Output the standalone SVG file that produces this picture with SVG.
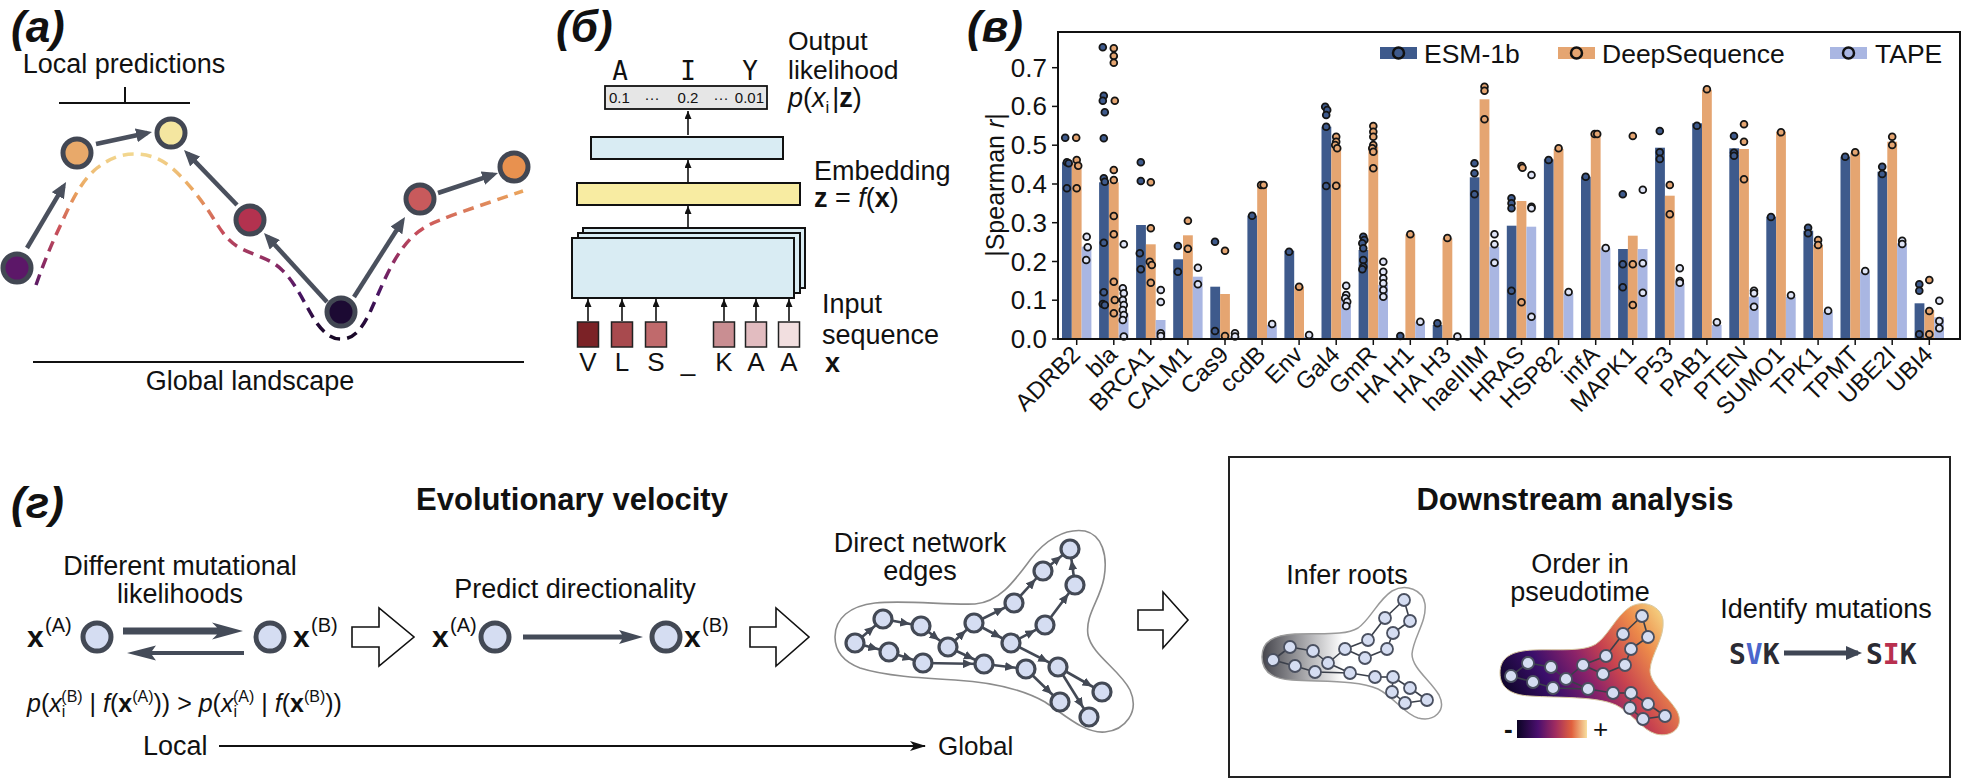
<svg xmlns="http://www.w3.org/2000/svg" width="1964" height="780" viewBox="0 0 1964 780">
<defs>
<style>
text{font-family:"Liberation Sans",Arial,Helvetica,sans-serif;fill:#111}
.lbl{font-size:27px}
.pl{font-size:44px;font-weight:bold;font-style:italic}
.h{font-size:31px;font-weight:bold}
.na{stroke:#424753;stroke-width:5}
.ar{stroke:#4a505d;stroke-width:4.5;fill:none;marker-end:url(#mA)}
.bx{fill:#d9ecf3;stroke:#111;stroke-width:2}
.ka{stroke:#111;stroke-width:1.6;marker-end:url(#mK)}
.sq{stroke:#222;stroke-width:1.5}
.e{fill:#3e5a8c}.d{fill:#e5a571}.t{fill:#a9b6e2}
.de,.dd,.dt{stroke:#151515;stroke-width:1.8}
.de{fill:#3e5a8c}.dd{fill:#e5a571}.dt{fill:#dfe4f6}
.tk{font-size:26px;text-anchor:end}
.xl{font-size:24px;text-anchor:end}
.vn{fill:#d5ddf2;stroke:#434955;stroke-width:5}
.nn{fill:#d5ddf2;stroke:#434955;stroke-width:3.2}
.ne{stroke:#434955;stroke-width:2.6;marker-end:url(#mN)}
.mn{fill:#d5ddf2;stroke:#4a5060;stroke-width:1.8}
.me{stroke:#3a3f4a;stroke-width:1.6}
.blk{fill:#fff;stroke:#111;stroke-width:1.6}
.it{font-style:italic}.bd{font-weight:bold}
.mono{font-family:"DejaVu Sans Mono","Liberation Mono",monospace}
</style>
<marker id="mA" markerUnits="userSpaceOnUse" markerWidth="16" markerHeight="14" refX="11" refY="7" orient="auto"><path d="M0,0L16,7L0,14Z" fill="#4a505d"/></marker>
<marker id="mK" markerUnits="userSpaceOnUse" markerWidth="8" markerHeight="7" refX="8" refY="3.5" orient="auto"><path d="M0,0L8,3.5L0,7Z" fill="#111"/></marker>
<marker id="mN" markerUnits="userSpaceOnUse" markerWidth="10" markerHeight="9" refX="21" refY="4.5" orient="auto"><path d="M0,0L10,4.5L0,9Z" fill="#434955"/></marker>
<marker id="mG" markerUnits="userSpaceOnUse" markerWidth="16" markerHeight="10" refX="15" refY="5" orient="auto"><path d="M0,0L16,5L0,10L4,5Z" fill="#111"/></marker>
<marker id="mS" markerUnits="userSpaceOnUse" markerWidth="16" markerHeight="14" refX="12" refY="7" orient="auto"><path d="M0,0L16,7L0,14Z" fill="#3f4654"/></marker>
<linearGradient id="gDash" gradientUnits="userSpaceOnUse" x1="0" y1="150" x2="0" y2="340">
<stop offset="0" stop-color="#f3dc94"/><stop offset="0.22" stop-color="#eaa35c"/><stop offset="0.42" stop-color="#c9505a"/><stop offset="0.6" stop-color="#8a2a63"/><stop offset="0.75" stop-color="#4a1565"/><stop offset="1" stop-color="#140722"/>
</linearGradient>
<linearGradient id="gGray" x1="0" y1="0" x2="1" y2="0">
<stop offset="0" stop-color="#45454c"/><stop offset="0.45" stop-color="#ffffff"/><stop offset="1" stop-color="#ffffff"/>
</linearGradient>
<linearGradient id="gInf" x1="0" y1="0.65" x2="1" y2="0.2">
<stop offset="0" stop-color="#0b0424"/><stop offset="0.25" stop-color="#3b0f6b"/><stop offset="0.45" stop-color="#8c2369"/><stop offset="0.6" stop-color="#c8434f"/><stop offset="0.8" stop-color="#ec8a4a"/><stop offset="1" stop-color="#f6dd8a"/>
</linearGradient>
<linearGradient id="gBar" x1="0" y1="0" x2="1" y2="0">
<stop offset="0" stop-color="#0b0424"/><stop offset="0.3" stop-color="#4a0f6e"/><stop offset="0.55" stop-color="#a02c60"/><stop offset="0.78" stop-color="#e0603e"/><stop offset="1" stop-color="#f8e0a0"/>
</linearGradient>
<path id="blob" d="M1262,657 C1262,641 1274,635 1295,634 C1320,633 1345,636 1358,628 C1370,620 1378,600 1392,591 C1406,583 1423,590 1425,604 C1427,622 1413,638 1412,654 C1412,668 1430,680 1439,695 C1447,711 1434,722 1418,718 C1404,714 1394,697 1378,689 C1358,680 1322,682 1292,680 C1272,679 1262,671 1262,657 Z"/>
<g id="mininet">
<g class="me">
<line x1="1273" y1="660" x2="1290" y2="647"/><line x1="1273" y1="660" x2="1295" y2="666"/><line x1="1290" y1="647" x2="1313" y2="651"/><line x1="1295" y1="666" x2="1315" y2="672"/><line x1="1313" y1="651" x2="1328" y2="663"/><line x1="1315" y1="672" x2="1350" y2="673"/><line x1="1328" y1="663" x2="1345" y2="649"/><line x1="1328" y1="663" x2="1350" y2="673"/><line x1="1345" y1="649" x2="1368" y2="640"/><line x1="1345" y1="649" x2="1365" y2="658"/><line x1="1368" y1="640" x2="1385" y2="618"/><line x1="1385" y1="618" x2="1404" y2="600"/><line x1="1365" y1="658" x2="1387" y2="649"/><line x1="1387" y1="649" x2="1393" y2="633"/><line x1="1393" y1="633" x2="1410" y2="621"/><line x1="1404" y1="600" x2="1410" y2="621"/><line x1="1350" y1="673" x2="1375" y2="677"/><line x1="1375" y1="677" x2="1393" y2="677"/><line x1="1393" y1="677" x2="1392" y2="692"/><line x1="1393" y1="677" x2="1410" y2="688"/><line x1="1392" y1="692" x2="1405" y2="703"/><line x1="1410" y1="688" x2="1427" y2="700"/><line x1="1405" y1="703" x2="1427" y2="700"/>
</g>
<g class="mn">
<circle cx="1273" cy="660" r="6"/><circle cx="1290" cy="647" r="6"/><circle cx="1295" cy="666" r="6"/><circle cx="1313" cy="651" r="6"/><circle cx="1315" cy="672" r="6"/><circle cx="1328" cy="663" r="6"/><circle cx="1345" cy="649" r="6"/><circle cx="1350" cy="673" r="6"/><circle cx="1368" cy="640" r="6"/><circle cx="1365" cy="658" r="6"/><circle cx="1385" cy="618" r="6"/><circle cx="1387" cy="649" r="6"/><circle cx="1393" cy="633" r="6"/><circle cx="1404" cy="600" r="6"/><circle cx="1410" cy="621" r="6"/><circle cx="1375" cy="677" r="6"/><circle cx="1393" cy="677" r="6"/><circle cx="1392" cy="692" r="6"/><circle cx="1410" cy="688" r="6"/><circle cx="1405" cy="703" r="6"/><circle cx="1427" cy="700" r="6"/>
</g>
</g>
</defs>
<rect width="1964" height="780" fill="#fff"/>

<!-- Panel a -->
<g id="panel-a">
<text class="pl" x="11" y="42">(а)</text>
<text class="lbl" x="124" y="73" text-anchor="middle">Local predictions</text>
<path d="M59,103H190M125,87V103" stroke="#111" stroke-width="2" fill="none"/>
<path id="landscape-curve" d="M36,285 C44,262 52,243 62,222 C72,200 82,180 97,168 C110,158 122,154 134,154 C148,154 160,158 172,168 C186,180 198,196 208,210 C218,225 225,240 240,248 C255,256 270,258 282,270 C296,283 305,305 316,322 C324,333 332,340 343,339 C356,338 364,325 371,310 C380,290 390,265 402,249 C412,235 424,226 440,220 C460,212 485,204 523,191" stroke="url(#gDash)" stroke-width="3.5" stroke-dasharray="11 7" fill="none"/>
<g id="a-connectors">
<line class="ar" x1="27" y1="248" x2="63.5" y2="186.3"/>
<line class="ar" x1="96" y1="144" x2="147.1" y2="133"/>
<line class="ar" x1="237" y1="205" x2="187.5" y2="153.6"/>
<line class="ar" x1="327" y1="302" x2="267.4" y2="236.7"/>
<line class="ar" x1="354" y1="297" x2="402.3" y2="221.2"/>
<line class="ar" x1="438" y1="193" x2="493.3" y2="174.6"/>
</g>
<g id="a-n1"><circle class="na" cx="17" cy="268" r="14" fill="#5c1768"/></g>
<g id="a-n2"><circle class="na" cx="77" cy="153" r="14" fill="#e8a96a"/></g>
<g id="a-n3"><circle class="na" cx="171" cy="133" r="14" fill="#f4e6a0"/></g>
<g id="a-n4"><circle class="na" cx="250" cy="220" r="14" fill="#b3324f"/></g>
<g id="a-n5"><circle class="na" cx="341" cy="312" r="14" fill="#1c0a33"/></g>
<g id="a-n6"><circle class="na" cx="420" cy="199" r="14" fill="#c85a5c"/></g>
<g id="a-n7"><circle class="na" cx="514" cy="167" r="14" fill="#e8914f"/></g>
<line x1="33" y1="362" x2="524" y2="362" stroke="#111" stroke-width="2.2"/>
<text class="lbl" x="250" y="390" text-anchor="middle">Global landscape</text>
</g>

<!-- Panel b -->
<g id="panel-b">
<text class="pl" x="556" y="42">(б)</text>
<g text-anchor="middle">
<text class="mono" x="620" y="80" style="font-size:26px">A</text>
<text class="mono" x="688" y="80" style="font-size:26px">I</text>
<text class="mono" x="750" y="80" style="font-size:26px">Y</text>
</g>
<g id="b-output"><rect x="605" y="86" width="162" height="23" fill="#e6e6e6" stroke="#111" stroke-width="1.8"/>
<text x="609" y="103" style="font-size:15px">0.1</text><text x="652" y="103" text-anchor="middle" style="font-size:15px">···</text><text x="688" y="103" text-anchor="middle" style="font-size:15px">0.2</text><text x="721" y="103" text-anchor="middle" style="font-size:15px">···</text><text x="764" y="103" text-anchor="end" style="font-size:15px">0.01</text></g>
<text x="788" y="50" style="font-size:26.5px">Output</text>
<text x="788" y="79" style="font-size:26.5px">likelihood</text>
<text class="lbl" x="788" y="107"><tspan class="it">p</tspan>(<tspan class="it">x</tspan><tspan style="font-size:17px" dy="6">i</tspan><tspan dy="-6" dx="3">|</tspan><tspan class="bd">z</tspan>)</text>
<g id="b-layer1"><rect class="bx" x="591" y="137" width="192" height="22"/></g>
<g id="b-embed"><rect x="577" y="183" width="223" height="22" fill="#f8eca2" stroke="#111" stroke-width="2"/></g>
<text class="lbl" x="814" y="180">Embedding</text>
<text class="lbl" x="814" y="207"><tspan class="bd">z</tspan> = <tspan class="it">f</tspan>(<tspan class="bd">x</tspan>)</text>
<g id="b-stack">
<rect class="bx" x="583" y="228" width="222" height="60"/>
<rect class="bx" x="578" y="233" width="222" height="60"/>
<rect class="bx" x="572" y="238" width="222" height="60"/>
</g>
<g id="b-connectors">
<line class="ka" x1="688" y1="135" x2="688" y2="111"/>
<line class="ka" x1="688" y1="182" x2="688" y2="160"/>
<line class="ka" x1="688" y1="228" x2="688" y2="206"/>
<line class="ka" x1="588" y1="321" x2="588" y2="299"/>
<line class="ka" x1="622" y1="321" x2="622" y2="299"/>
<line class="ka" x1="656" y1="321" x2="656" y2="299"/>
<line class="ka" x1="724" y1="321" x2="724" y2="299"/>
<line class="ka" x1="756" y1="321" x2="756" y2="299"/>
<line class="ka" x1="789" y1="321" x2="789" y2="299"/>
</g>
<g id="b-inputs">
<rect class="sq" x="577.5" y="322" width="21" height="25" fill="#7b2226"/>
<rect class="sq" x="611.5" y="322" width="21" height="25" fill="#a84a4e"/>
<rect class="sq" x="645.5" y="322" width="21" height="25" fill="#c06a6c"/>
<rect class="sq" x="713.5" y="322" width="21" height="25" fill="#c98e92"/>
<rect class="sq" x="745.5" y="322" width="21" height="25" fill="#e2bcc0"/>
<rect class="sq" x="778.5" y="322" width="21" height="25" fill="#f2dfe0"/>
</g>
<g text-anchor="middle">
<text x="588" y="371" style="font-size:26px">V</text><text x="622" y="371" style="font-size:26px">L</text><text x="656" y="371" style="font-size:26px">S</text><text x="688" y="371" style="font-size:26px">_</text><text x="724" y="371" style="font-size:26px">K</text><text x="756" y="371" style="font-size:26px">A</text><text x="789" y="371" style="font-size:26px">A</text>
</g>
<text x="825" y="372" style="font-size:27px;font-weight:bold">x</text>
<text class="lbl" x="822" y="313">Input</text>
<text class="lbl" x="822" y="344">sequence</text>
</g>

<!-- Panel c -->
<g id="panel-c">
<text class="pl" x="967" y="42">(в)</text>
<text transform="translate(1004 185) rotate(-90)" text-anchor="middle" style="font-size:25px">|Spearman <tspan class="it">r</tspan>|</text>
<g id="c-yaxis" stroke="#111" stroke-width="1.5">
<line x1="1052" y1="339" x2="1058" y2="339"/><line x1="1052" y1="300.2" x2="1058" y2="300.2"/><line x1="1052" y1="261.5" x2="1058" y2="261.5"/><line x1="1052" y1="222.7" x2="1058" y2="222.7"/><line x1="1052" y1="184" x2="1058" y2="184"/><line x1="1052" y1="145.2" x2="1058" y2="145.2"/><line x1="1052" y1="106.4" x2="1058" y2="106.4"/><line x1="1052" y1="67.7" x2="1058" y2="67.7"/>
</g>
<text class="tk" x="1047" y="348">0.0</text><text class="tk" x="1047" y="309.2">0.1</text><text class="tk" x="1047" y="270.5">0.2</text><text class="tk" x="1047" y="231.7">0.3</text><text class="tk" x="1047" y="193">0.4</text><text class="tk" x="1047" y="154.2">0.5</text><text class="tk" x="1047" y="115.4">0.6</text><text class="tk" x="1047" y="76.7">0.7</text>

<g id="grp-ADRB2" transform="translate(1076.7 0)"><rect class="e" x="-14.7" y="162.3" width="9.8" height="176.7"/><rect class="d" x="-4.9" y="163.3" width="9.8" height="175.7"/><rect class="t" x="4.9" y="246.7" width="9.8" height="92.3"/>
<circle class="de" cx="-11.5" cy="137.7" r="3.4"/><circle class="de" cx="-9.8" cy="162.3" r="3.4"/><circle class="de" cx="-8" cy="163.3" r="3.4"/><circle class="de" cx="-9.8" cy="188.3" r="3.4"/>
<circle class="dd" cx="-0.5" cy="137.7" r="3.4"/><circle class="dd" cx="0" cy="160" r="3.4"/><circle class="dd" cx="1.5" cy="165.7" r="3.4"/><circle class="dd" cx="0" cy="188.3" r="3.4"/>
<circle class="dt" cx="10" cy="236.7" r="3.4"/><circle class="dt" cx="11" cy="247.3" r="3.4"/><circle class="dt" cx="9.5" cy="260" r="3.4"/>
<line x1="0" y1="339" x2="0" y2="345" stroke="#111" stroke-width="1.5"/><text class="xl" transform="translate(5 356) rotate(-45)">ADRB2</text></g>

<g id="grp-bla" transform="translate(1113.8 0)"><rect class="e" x="-14.7" y="182.3" width="9.8" height="156.7"/><rect class="d" x="-4.9" y="182.3" width="9.8" height="156.7"/><rect class="t" x="4.9" y="313.3" width="9.8" height="25.7"/>
<circle class="de" cx="-11" cy="47.3" r="3.4"/><circle class="de" cx="-10" cy="95.7" r="3.4"/><circle class="de" cx="-11" cy="100.7" r="3.4"/><circle class="de" cx="-9" cy="112.3" r="3.4"/><circle class="de" cx="-10" cy="138.3" r="3.4"/><circle class="de" cx="-10" cy="178.3" r="3.4"/><circle class="de" cx="-9" cy="181.7" r="3.4"/><circle class="de" cx="-10" cy="242.7" r="3.4"/><circle class="de" cx="-10" cy="292.3" r="3.4"/><circle class="de" cx="-11" cy="304" r="3.4"/><circle class="de" cx="-9" cy="305" r="3.4"/>
<circle class="dd" cx="0" cy="48.3" r="3.4"/><circle class="dd" cx="0" cy="56" r="3.4"/><circle class="dd" cx="0" cy="62.7" r="3.4"/><circle class="dd" cx="1" cy="100.7" r="3.4"/><circle class="dd" cx="0" cy="170" r="3.4"/><circle class="dd" cx="0" cy="180" r="3.4"/><circle class="dd" cx="0" cy="216" r="3.4"/><circle class="dd" cx="0" cy="234.3" r="3.4"/><circle class="dd" cx="0" cy="281.7" r="3.4"/><circle class="dd" cx="1" cy="300" r="3.4"/><circle class="dd" cx="0" cy="313.3" r="3.4"/>
<circle class="dt" cx="10" cy="244.3" r="3.4"/><circle class="dt" cx="9" cy="288.3" r="3.4"/><circle class="dt" cx="10" cy="293.3" r="3.4"/><circle class="dt" cx="9" cy="300" r="3.4"/><circle class="dt" cx="10" cy="305" r="3.4"/><circle class="dt" cx="9" cy="310" r="3.4"/><circle class="dt" cx="10" cy="315" r="3.4"/><circle class="dt" cx="9" cy="320" r="3.4"/><circle class="dt" cx="10" cy="336.5" r="3.4"/>
<line x1="0" y1="339" x2="0" y2="345" stroke="#111" stroke-width="1.5"/><text class="xl" transform="translate(5 356) rotate(-45)">bla</text></g>

<g id="grp-BRCA1" transform="translate(1150.8 0)"><rect class="e" x="-14.7" y="225" width="9.8" height="114"/><rect class="d" x="-4.9" y="244.3" width="9.8" height="94.7"/><rect class="t" x="4.9" y="320" width="9.8" height="19"/>
<circle class="de" cx="-10" cy="162.3" r="3.4"/><circle class="de" cx="-10" cy="181" r="3.4"/><circle class="de" cx="-11" cy="253.3" r="3.4"/><circle class="de" cx="-10" cy="269.3" r="3.4"/>
<circle class="dd" cx="0" cy="182.3" r="3.4"/><circle class="dd" cx="0" cy="228.3" r="3.4"/><circle class="dd" cx="-1" cy="261.7" r="3.4"/><circle class="dd" cx="1" cy="265" r="3.4"/><circle class="dd" cx="0" cy="282.7" r="3.4"/>
<circle class="dt" cx="10" cy="290" r="3.4"/><circle class="dt" cx="10" cy="302" r="3.4"/><circle class="dt" cx="10" cy="333.3" r="3.4"/><circle class="dt" cx="10" cy="336" r="3.4"/>
<line x1="0" y1="339" x2="0" y2="345" stroke="#111" stroke-width="1.5"/><text class="xl" transform="translate(5 356) rotate(-45)">BRCA1</text></g>

<g id="grp-CALM1" transform="translate(1187.9 0)"><rect class="e" x="-14.7" y="259.3" width="9.8" height="79.7"/><rect class="d" x="-4.9" y="235.3" width="9.8" height="103.7"/><rect class="t" x="4.9" y="276.7" width="9.8" height="62.3"/>
<circle class="de" cx="-10" cy="246" r="3.4"/><circle class="de" cx="-10" cy="271.7" r="3.4"/>
<circle class="dd" cx="0" cy="220.7" r="3.4"/><circle class="dd" cx="0" cy="248.7" r="3.4"/>
<circle class="dt" cx="10" cy="267.7" r="3.4"/><circle class="dt" cx="10" cy="284.3" r="3.4"/>
<line x1="0" y1="339" x2="0" y2="345" stroke="#111" stroke-width="1.5"/><text class="xl" transform="translate(5 356) rotate(-45)">CALM1</text></g>

<g id="grp-Cas9" transform="translate(1225 0)"><rect class="e" x="-14.7" y="286.7" width="9.8" height="52.3"/><rect class="d" x="-4.9" y="294" width="9.8" height="45"/><rect class="t" x="4.9" y="336.7" width="9.8" height="2.3"/>
<circle class="de" cx="-10" cy="241.7" r="3.4"/><circle class="de" cx="-10" cy="331" r="3.4"/>
<circle class="dd" cx="0" cy="250.7" r="3.4"/><circle class="dd" cx="0" cy="336" r="3.4"/>
<circle class="dt" cx="10" cy="333.3" r="3.4"/><circle class="dt" cx="10" cy="336.5" r="3.4"/>
<line x1="0" y1="339" x2="0" y2="345" stroke="#111" stroke-width="1.5"/><text class="xl" transform="translate(5 356) rotate(-45)">Cas9</text></g>

<g id="grp-ccdB" transform="translate(1262.1 0)"><rect class="e" x="-14.7" y="215.7" width="9.8" height="123.3"/><rect class="d" x="-4.9" y="185" width="9.8" height="154"/><rect class="t" x="4.9" y="325" width="9.8" height="14"/>
<circle class="de" cx="-10" cy="215.7" r="3.4"/>
<circle class="dd" cx="-1" cy="185" r="3.4"/><circle class="dd" cx="1.5" cy="185" r="3.4"/>
<circle class="dt" cx="10" cy="324" r="3.4"/>
<line x1="0" y1="339" x2="0" y2="345" stroke="#111" stroke-width="1.5"/><text class="xl" transform="translate(5 356) rotate(-45)">ccdB</text></g>

<g id="grp-Env" transform="translate(1299.1 0)"><rect class="e" x="-14.7" y="250.7" width="9.8" height="88.3"/><rect class="d" x="-4.9" y="286.7" width="9.8" height="52.3"/><rect class="t" x="4.9" y="336.7" width="9.8" height="2.3"/>
<circle class="de" cx="-10" cy="251.7" r="3.4"/><circle class="dd" cx="0" cy="286.7" r="3.4"/><circle class="dt" cx="10" cy="335" r="3.4"/>
<line x1="0" y1="339" x2="0" y2="345" stroke="#111" stroke-width="1.5"/><text class="xl" transform="translate(5 356) rotate(-45)">Env</text></g>

<g id="grp-Gal4" transform="translate(1336.2 0)"><rect class="e" x="-14.7" y="126.7" width="9.8" height="212.3"/><rect class="d" x="-4.9" y="146.7" width="9.8" height="192.3"/><rect class="t" x="4.9" y="300" width="9.8" height="39"/>
<circle class="de" cx="-11" cy="106.7" r="3.4"/><circle class="de" cx="-9" cy="110" r="3.4"/><circle class="de" cx="-10" cy="115" r="3.4"/><circle class="de" cx="-10" cy="126.7" r="3.4"/><circle class="de" cx="-10" cy="186" r="3.4"/>
<circle class="dd" cx="0" cy="136.7" r="3.4"/><circle class="dd" cx="0" cy="141.7" r="3.4"/><circle class="dd" cx="-1" cy="145" r="3.4"/><circle class="dd" cx="1" cy="148.3" r="3.4"/><circle class="dd" cx="0" cy="185.7" r="3.4"/>
<circle class="dt" cx="10" cy="285.7" r="3.4"/><circle class="dt" cx="10" cy="295" r="3.4"/><circle class="dt" cx="9" cy="298.3" r="3.4"/><circle class="dt" cx="11" cy="301.7" r="3.4"/><circle class="dt" cx="10" cy="306" r="3.4"/>
<line x1="0" y1="339" x2="0" y2="345" stroke="#111" stroke-width="1.5"/><text class="xl" transform="translate(5 356) rotate(-45)">Gal4</text></g>

<g id="grp-GmR" transform="translate(1373.3 0)"><rect class="e" x="-14.7" y="250" width="9.8" height="89"/><rect class="d" x="-4.9" y="146.7" width="9.8" height="192.3"/><rect class="t" x="4.9" y="285" width="9.8" height="54"/>
<circle class="de" cx="-10" cy="236.7" r="3.4"/><circle class="de" cx="-9" cy="240" r="3.4"/><circle class="de" cx="-11" cy="243.3" r="3.4"/><circle class="de" cx="-10" cy="248.3" r="3.4"/><circle class="de" cx="-10" cy="260" r="3.4"/><circle class="de" cx="-10" cy="266.7" r="3.4"/><circle class="de" cx="-11" cy="269.3" r="3.4"/>
<circle class="dd" cx="0" cy="126" r="3.4"/><circle class="dd" cx="0" cy="131.7" r="3.4"/><circle class="dd" cx="0" cy="136.7" r="3.4"/><circle class="dd" cx="0" cy="145" r="3.4"/><circle class="dd" cx="-1" cy="148.3" r="3.4"/><circle class="dd" cx="0" cy="151.7" r="3.4"/><circle class="dd" cx="0" cy="168.3" r="3.4"/>
<circle class="dt" cx="10" cy="261.7" r="3.4"/><circle class="dt" cx="10" cy="271.7" r="3.4"/><circle class="dt" cx="10" cy="278.3" r="3.4"/><circle class="dt" cx="10" cy="283.3" r="3.4"/><circle class="dt" cx="10" cy="290" r="3.4"/><circle class="dt" cx="10" cy="296.7" r="3.4"/>
<line x1="0" y1="339" x2="0" y2="345" stroke="#111" stroke-width="1.5"/><text class="xl" transform="translate(5 356) rotate(-45)">GmR</text></g>

<g id="grp-HAH1" transform="translate(1410.3 0)"><rect class="e" x="-14.7" y="337.7" width="9.8" height="1.3"/><rect class="d" x="-4.9" y="234.3" width="9.8" height="104.7"/><rect class="t" x="4.9" y="321.7" width="9.8" height="17.3"/>
<circle class="de" cx="-10" cy="336" r="3.4"/><circle class="dd" cx="0" cy="234.3" r="3.4"/><circle class="dt" cx="10" cy="321.7" r="3.4"/>
<line x1="0" y1="339" x2="0" y2="345" stroke="#111" stroke-width="1.5"/><text class="xl" transform="translate(5 356) rotate(-45)">HA H1</text></g>

<g id="grp-HAH3" transform="translate(1447.4 0)"><rect class="e" x="-14.7" y="325" width="9.8" height="14"/><rect class="d" x="-4.9" y="238.3" width="9.8" height="100.7"/><rect class="t" x="4.9" y="337.7" width="9.8" height="1.3"/>
<circle class="de" cx="-10" cy="323.3" r="3.4"/><circle class="dd" cx="0" cy="238" r="3.4"/><circle class="dt" cx="10" cy="336.5" r="3.4"/>
<line x1="0" y1="339" x2="0" y2="345" stroke="#111" stroke-width="1.5"/><text class="xl" transform="translate(5 356) rotate(-45)">HA H3</text></g>

<g id="grp-haeIIIM" transform="translate(1484.5 0)"><rect class="e" x="-14.7" y="177.3" width="9.8" height="161.7"/><rect class="d" x="-4.9" y="99.3" width="9.8" height="239.7"/><rect class="t" x="4.9" y="246.7" width="9.8" height="92.3"/>
<circle class="de" cx="-10" cy="163.3" r="3.4"/><circle class="de" cx="-10" cy="173.3" r="3.4"/><circle class="de" cx="-10" cy="194.3" r="3.4"/>
<circle class="dd" cx="0" cy="86.7" r="3.4"/><circle class="dd" cx="0" cy="90.7" r="3.4"/><circle class="dd" cx="0" cy="119.3" r="3.4"/>
<circle class="dt" cx="10" cy="234.3" r="3.4"/><circle class="dt" cx="10" cy="244.3" r="3.4"/><circle class="dt" cx="10" cy="262.7" r="3.4"/>
<line x1="0" y1="339" x2="0" y2="345" stroke="#111" stroke-width="1.5"/><text class="xl" transform="translate(5 356) rotate(-45)">haeIIIM</text></g>

<g id="grp-HRAS" transform="translate(1521.5 0)"><rect class="e" x="-14.7" y="225.7" width="9.8" height="113.3"/><rect class="d" x="-4.9" y="201" width="9.8" height="138"/><rect class="t" x="4.9" y="226.7" width="9.8" height="112.3"/>
<circle class="de" cx="-10" cy="198.3" r="3.4"/><circle class="de" cx="-10" cy="203.3" r="3.4"/><circle class="de" cx="-10" cy="208.3" r="3.4"/><circle class="de" cx="-10" cy="290.7" r="3.4"/>
<circle class="dd" cx="0" cy="166" r="3.4"/><circle class="dd" cx="1" cy="167.7" r="3.4"/><circle class="dd" cx="0" cy="302.3" r="3.4"/>
<circle class="dt" cx="10" cy="175" r="3.4"/><circle class="dt" cx="10" cy="206.7" r="3.4"/><circle class="dt" cx="10" cy="208.3" r="3.4"/><circle class="dt" cx="10" cy="316.7" r="3.4"/>
<line x1="0" y1="339" x2="0" y2="345" stroke="#111" stroke-width="1.5"/><text class="xl" transform="translate(5 356) rotate(-45)">HRAS</text></g>

<g id="grp-HSP82" transform="translate(1558.6 0)"><rect class="e" x="-14.7" y="159.3" width="9.8" height="179.7"/><rect class="d" x="-4.9" y="149" width="9.8" height="190"/><rect class="t" x="4.9" y="293.3" width="9.8" height="45.7"/>
<circle class="de" cx="-10" cy="160" r="3.4"/><circle class="dd" cx="0" cy="148.3" r="3.4"/><circle class="dt" cx="10" cy="292" r="3.4"/>
<line x1="0" y1="339" x2="0" y2="345" stroke="#111" stroke-width="1.5"/><text class="xl" transform="translate(5 356) rotate(-45)">HSP82</text></g>

<g id="grp-infA" transform="translate(1595.7 0)"><rect class="e" x="-14.7" y="176.7" width="9.8" height="162.3"/><rect class="d" x="-4.9" y="133.3" width="9.8" height="205.7"/><rect class="t" x="4.9" y="248.3" width="9.8" height="90.7"/>
<circle class="de" cx="-10" cy="176.7" r="3.4"/><circle class="dd" cx="-1" cy="134" r="3.4"/><circle class="dd" cx="1.5" cy="134" r="3.4"/><circle class="dt" cx="10" cy="248" r="3.4"/>
<line x1="0" y1="339" x2="0" y2="345" stroke="#111" stroke-width="1.5"/><text class="xl" transform="translate(5 356) rotate(-45)">infA</text></g>

<g id="grp-MAPK1" transform="translate(1632.8 0)"><rect class="e" x="-14.7" y="249" width="9.8" height="90"/><rect class="d" x="-4.9" y="235.7" width="9.8" height="103.3"/><rect class="t" x="4.9" y="249" width="9.8" height="90"/>
<circle class="de" cx="-10" cy="194.3" r="3.4"/><circle class="de" cx="-10" cy="264.3" r="3.4"/><circle class="de" cx="-10" cy="287.3" r="3.4"/>
<circle class="dd" cx="0" cy="136" r="3.4"/><circle class="dd" cx="0" cy="264.3" r="3.4"/><circle class="dd" cx="0" cy="305" r="3.4"/>
<circle class="dt" cx="10" cy="189.7" r="3.4"/><circle class="dt" cx="10" cy="263.3" r="3.4"/><circle class="dt" cx="10" cy="292.7" r="3.4"/>
<line x1="0" y1="339" x2="0" y2="345" stroke="#111" stroke-width="1.5"/><text class="xl" transform="translate(5 356) rotate(-45)">MAPK1</text></g>

<g id="grp-P53" transform="translate(1669.8 0)"><rect class="e" x="-14.7" y="147.7" width="9.8" height="191.3"/><rect class="d" x="-4.9" y="195.7" width="9.8" height="143.3"/><rect class="t" x="4.9" y="283.3" width="9.8" height="55.7"/>
<circle class="de" cx="-10" cy="131" r="3.4"/><circle class="de" cx="-10" cy="152.3" r="3.4"/><circle class="de" cx="-10" cy="159" r="3.4"/>
<circle class="dd" cx="0" cy="185" r="3.4"/><circle class="dd" cx="0" cy="214.3" r="3.4"/>
<circle class="dt" cx="10" cy="268.3" r="3.4"/><circle class="dt" cx="10" cy="281" r="3.4"/><circle class="dt" cx="10" cy="282.7" r="3.4"/>
<line x1="0" y1="339" x2="0" y2="345" stroke="#111" stroke-width="1.5"/><text class="xl" transform="translate(5 356) rotate(-45)">P53</text></g>

<g id="grp-PAB1" transform="translate(1706.9 0)"><rect class="e" x="-14.7" y="123.3" width="9.8" height="215.7"/><rect class="d" x="-4.9" y="90" width="9.8" height="249"/><rect class="t" x="4.9" y="325" width="9.8" height="14"/>
<circle class="de" cx="-10" cy="125.7" r="3.4"/><circle class="dd" cx="0" cy="89.3" r="3.4"/><circle class="dt" cx="10" cy="322.3" r="3.4"/>
<line x1="0" y1="339" x2="0" y2="345" stroke="#111" stroke-width="1.5"/><text class="xl" transform="translate(5 356) rotate(-45)">PAB1</text></g>

<g id="grp-PTEN" transform="translate(1744 0)"><rect class="e" x="-14.7" y="148.3" width="9.8" height="190.7"/><rect class="d" x="-4.9" y="149" width="9.8" height="190"/><rect class="t" x="4.9" y="296.7" width="9.8" height="42.3"/>
<circle class="de" cx="-10" cy="136" r="3.4"/><circle class="de" cx="-10" cy="152.7" r="3.4"/><circle class="de" cx="-10" cy="155.7" r="3.4"/>
<circle class="dd" cx="0" cy="124.3" r="3.4"/><circle class="dd" cx="0" cy="141.7" r="3.4"/><circle class="dd" cx="0" cy="179.3" r="3.4"/>
<circle class="dt" cx="10" cy="290.7" r="3.4"/><circle class="dt" cx="10" cy="293.3" r="3.4"/><circle class="dt" cx="10" cy="306.7" r="3.4"/>
<line x1="0" y1="339" x2="0" y2="345" stroke="#111" stroke-width="1.5"/><text class="xl" transform="translate(5 356) rotate(-45)">PTEN</text></g>

<g id="grp-SUMO1" transform="translate(1781 0)"><rect class="e" x="-14.7" y="216.7" width="9.8" height="122.3"/><rect class="d" x="-4.9" y="131.7" width="9.8" height="207.3"/><rect class="t" x="4.9" y="296.7" width="9.8" height="42.3"/>
<circle class="de" cx="-10" cy="217" r="3.4"/><circle class="dd" cx="0" cy="132.3" r="3.4"/><circle class="dt" cx="10" cy="295.3" r="3.4"/>
<line x1="0" y1="339" x2="0" y2="345" stroke="#111" stroke-width="1.5"/><text class="xl" transform="translate(5 356) rotate(-45)">SUMO1</text></g>

<g id="grp-TPK1" transform="translate(1818.1 0)"><rect class="e" x="-14.7" y="230.7" width="9.8" height="108.3"/><rect class="d" x="-4.9" y="245" width="9.8" height="94"/><rect class="t" x="4.9" y="311.7" width="9.8" height="27.3"/>
<circle class="de" cx="-10" cy="227.7" r="3.4"/><circle class="de" cx="-10" cy="233.3" r="3.4"/><circle class="dd" cx="0" cy="240" r="3.4"/><circle class="dd" cx="0" cy="245" r="3.4"/><circle class="dt" cx="10" cy="310.7" r="3.4"/>
<line x1="0" y1="339" x2="0" y2="345" stroke="#111" stroke-width="1.5"/><text class="xl" transform="translate(5 356) rotate(-45)">TPK1</text></g>

<g id="grp-TPMT" transform="translate(1855.2 0)"><rect class="e" x="-14.7" y="156.7" width="9.8" height="182.3"/><rect class="d" x="-4.9" y="152.7" width="9.8" height="186.3"/><rect class="t" x="4.9" y="271.7" width="9.8" height="67.3"/>
<circle class="de" cx="-10" cy="156.7" r="3.4"/><circle class="dd" cx="0" cy="152.3" r="3.4"/><circle class="dt" cx="10" cy="271" r="3.4"/>
<line x1="0" y1="339" x2="0" y2="345" stroke="#111" stroke-width="1.5"/><text class="xl" transform="translate(5 356) rotate(-45)">TPMT</text></g>

<g id="grp-UBE2I" transform="translate(1892.2 0)"><rect class="e" x="-14.7" y="171.7" width="9.8" height="167.3"/><rect class="d" x="-4.9" y="141.7" width="9.8" height="197.3"/><rect class="t" x="4.9" y="243.3" width="9.8" height="95.7"/>
<circle class="de" cx="-10" cy="166.7" r="3.4"/><circle class="de" cx="-10" cy="174" r="3.4"/><circle class="dd" cx="0" cy="136.7" r="3.4"/><circle class="dd" cx="0" cy="145" r="3.4"/><circle class="dt" cx="10" cy="240.7" r="3.4"/><circle class="dt" cx="10" cy="244" r="3.4"/>
<line x1="0" y1="339" x2="0" y2="345" stroke="#111" stroke-width="1.5"/><text class="xl" transform="translate(5 356) rotate(-45)">UBE2I</text></g>

<g id="grp-UBI4" transform="translate(1929.3 0)"><rect class="e" x="-14.7" y="303.3" width="9.8" height="35.7"/><rect class="d" x="-4.9" y="310" width="9.8" height="29"/><rect class="t" x="4.9" y="317.3" width="9.8" height="21.7"/>
<circle class="de" cx="-10" cy="284.3" r="3.4"/><circle class="de" cx="-10" cy="290.7" r="3.4"/><circle class="de" cx="-10" cy="334.3" r="3.4"/>
<circle class="dd" cx="0" cy="280" r="3.4"/><circle class="dd" cx="0" cy="311" r="3.4"/><circle class="dd" cx="0" cy="334.3" r="3.4"/>
<circle class="dt" cx="10" cy="300.7" r="3.4"/><circle class="dt" cx="10" cy="321" r="3.4"/><circle class="dt" cx="10" cy="328.3" r="3.4"/>
<line x1="0" y1="339" x2="0" y2="345" stroke="#111" stroke-width="1.5"/><text class="xl" transform="translate(5 356) rotate(-45)">UBI4</text></g>

<rect x="1058" y="32" width="902" height="307" fill="none" stroke="#111" stroke-width="2"/>
<g id="c-legend">
<rect class="e" x="1380" y="47" width="37" height="12"/><circle cx="1398.5" cy="53" r="5.5" fill="none" stroke="#111" stroke-width="2.5"/>
<text x="1424" y="63" style="font-size:26.5px">ESM-1b</text>
<rect class="d" x="1558" y="47" width="37" height="12"/><circle cx="1576.5" cy="53" r="5.5" fill="none" stroke="#111" stroke-width="2.5"/>
<text x="1602" y="63" style="font-size:26.5px">DeepSequence</text>
<rect class="t" x="1830" y="47" width="37" height="12"/><circle cx="1848.5" cy="53" r="5.5" fill="none" stroke="#111" stroke-width="2.5"/>
<text x="1875" y="63" style="font-size:26.5px">TAPE</text>
</g>
</g>

<!-- Panel d -->
<g id="panel-d">
<text class="pl" x="11" y="518">(г)</text>
<text class="h" x="572" y="510" text-anchor="middle">Evolutionary velocity</text>
<text class="lbl" x="180" y="575" text-anchor="middle">Different mutational</text>
<text class="lbl" x="180" y="603" text-anchor="middle">likelihoods</text>
<g id="d-xA"><text x="27" y="647" style="font-size:30px;font-weight:bold">x</text><text x="45" y="632" style="font-size:20px">(A)</text><circle class="vn" cx="97" cy="637" r="14"/></g>
<g id="d-xB"><circle class="vn" cx="270" cy="637" r="14"/><text x="293" y="647" style="font-size:30px;font-weight:bold">x</text><text x="311" y="632" style="font-size:20px">(B)</text></g>
<g id="d-connectors" fill="#444b58">
<path d="M123,627.5L217,627.5L212,622.5L243,631L212,639.5L217,634.5L123,634.5Z"/>
<path d="M244,651L152,651L156,645.5L127,653L156,660.5L152,655L244,655Z"/>
<path d="M523,634.5L622,634.5L619,630L643,637L619,644L622,639.5L523,639.5Z"/>
</g>
<text x="27" y="712" style="font-size:25px"><tspan class="it">p</tspan>(<tspan class="it">x</tspan><tspan style="font-size:16px" dy="5">i</tspan><tspan style="font-size:16px" dx="-4" dy="-15">(B)</tspan><tspan dy="10"> | </tspan><tspan class="it">f</tspan>(<tspan class="bd">x</tspan><tspan style="font-size:16px" dy="-10">(A)</tspan><tspan dy="10">)) &gt; </tspan><tspan class="it">p</tspan>(<tspan class="it">x</tspan><tspan style="font-size:16px" dy="5">i</tspan><tspan style="font-size:16px" dx="-4" dy="-15">(A)</tspan><tspan dy="10"> | </tspan><tspan class="it">f</tspan>(<tspan class="bd">x</tspan><tspan style="font-size:16px" dy="-10">(B)</tspan><tspan dy="10">))</tspan></text>
<polygon class="blk" points="352,627 379,627 379,608 414,637 379,666 379,647 352,647"/>
<text class="lbl" x="575" y="598" text-anchor="middle">Predict directionality</text>
<g id="d-xA2"><text x="432" y="647" style="font-size:30px;font-weight:bold">x</text><text x="450" y="632" style="font-size:20px">(A)</text><circle class="vn" cx="495" cy="637" r="14"/></g>
<g id="d-xB2"><circle class="vn" cx="666" cy="637" r="14"/><text x="684" y="647" style="font-size:30px;font-weight:bold">x</text><text x="702" y="632" style="font-size:20px">(B)</text></g>
<polygon class="blk" points="750,627 776,627 776,608 809,637 776,666 776,647 750,647"/>
<text class="lbl" x="920" y="552" text-anchor="middle">Direct network</text>
<text class="lbl" x="920" y="580" text-anchor="middle">edges</text>
<g id="d-network">
<path d="M835,637 C835,618 850,606 875,603 C905,600 945,605 975,604 C1000,602 1015,580 1030,560 C1045,540 1065,528 1085,531 C1102,535 1108,555 1104,578 C1100,600 1085,615 1088,635 C1092,655 1120,670 1130,690 C1140,712 1125,730 1105,732 C1085,734 1065,715 1045,702 C1020,688 990,682 955,680 C920,678 885,676 860,668 C842,661 835,650 835,637 Z" fill="#fff" stroke="#8c8c8c" stroke-width="1.6"/>
<g id="net-connectors">
<line class="ne" x1="855" y1="643" x2="883" y2="619"/><line class="ne" x1="855" y1="643" x2="889" y2="652"/><line class="ne" x1="883" y1="619" x2="921" y2="626"/><line class="ne" x1="889" y1="652" x2="923" y2="663"/><line class="ne" x1="921" y1="626" x2="948" y2="647"/><line class="ne" x1="948" y1="647" x2="974" y2="623"/><line class="ne" x1="923" y1="663" x2="984" y2="664"/><line class="ne" x1="948" y1="647" x2="984" y2="664"/><line class="ne" x1="974" y1="623" x2="1011" y2="643"/><line class="ne" x1="974" y1="623" x2="1014" y2="603"/><line class="ne" x1="984" y1="664" x2="1026" y2="669"/><line class="ne" x1="1011" y1="643" x2="1045" y2="625"/><line class="ne" x1="1011" y1="643" x2="1058" y2="667"/><line class="ne" x1="1014" y1="603" x2="1043" y2="571"/><line class="ne" x1="1043" y1="571" x2="1070" y2="549"/><line class="ne" x1="1045" y1="625" x2="1075" y2="585"/><line class="ne" x1="1075" y1="585" x2="1070" y2="549"/><line class="ne" x1="1026" y1="669" x2="1060" y2="702"/><line class="ne" x1="1058" y1="667" x2="1102" y2="692"/><line class="ne" x1="1058" y1="667" x2="1089" y2="717"/>
</g>
<g id="net-nodes">
<circle class="nn" cx="855" cy="643" r="9"/><circle class="nn" cx="883" cy="619" r="9"/><circle class="nn" cx="889" cy="652" r="9"/><circle class="nn" cx="921" cy="626" r="9"/><circle class="nn" cx="923" cy="663" r="9"/><circle class="nn" cx="948" cy="647" r="9"/><circle class="nn" cx="974" cy="623" r="9"/><circle class="nn" cx="984" cy="664" r="9"/><circle class="nn" cx="1011" cy="643" r="9"/><circle class="nn" cx="1014" cy="603" r="9"/><circle class="nn" cx="1026" cy="669" r="9"/><circle class="nn" cx="1043" cy="571" r="9"/><circle class="nn" cx="1045" cy="625" r="9"/><circle class="nn" cx="1058" cy="667" r="9"/><circle class="nn" cx="1070" cy="549" r="9"/><circle class="nn" cx="1075" cy="585" r="9"/><circle class="nn" cx="1102" cy="692" r="9"/><circle class="nn" cx="1060" cy="702" r="9"/><circle class="nn" cx="1089" cy="717" r="9"/>
</g>
</g>
<polygon class="blk" points="1138,610 1163,610 1163,592 1188,620 1163,648 1163,630 1138,630"/>
<text class="lbl" x="143" y="755">Local</text>
<line x1="219" y1="746" x2="925" y2="746" stroke="#111" stroke-width="2" marker-end="url(#mG)"/>
<text x="938" y="755" style="font-size:26px">Global</text>

<g id="d-downstream">
<rect x="1229" y="457" width="721" height="320" fill="none" stroke="#222" stroke-width="2"/>
<text class="h" x="1575" y="510" text-anchor="middle">Downstream analysis</text>
<text class="lbl" x="1347" y="584" text-anchor="middle">Infer roots</text>
<text class="lbl" x="1580" y="573" text-anchor="middle">Order in</text>
<text class="lbl" x="1580" y="601" text-anchor="middle">pseudotime</text>
<text class="lbl" x="1826" y="618" text-anchor="middle">Identify mutations</text>
<g id="roots-net"><use href="#blob" fill="url(#gGray)" stroke="#9a9a9a" stroke-width="1.5"/><use href="#mininet"/></g>
<g id="pseudo-net" transform="translate(238 16)"><use href="#blob" fill="url(#gInf)" stroke="#d8c8a0" stroke-width="1"/><use href="#mininet"/></g>
<g id="colorbar"><rect x="1517" y="720" width="70" height="18" fill="url(#gBar)"/>
<text x="1504" y="738" style="font-size:26px;font-weight:bold">-</text><text x="1593" y="738" style="font-size:26px">+</text></g>
<g id="mutation">
<text class="mono" x="1729" y="664" style="font-size:28px;font-weight:bold"><tspan fill="#2b2b33">S</tspan><tspan fill="#4b66cc">V</tspan><tspan fill="#2b2b33">K</tspan></text>
<line x1="1784" y1="653" x2="1858" y2="653" stroke="#3f4654" stroke-width="5" marker-end="url(#mS)"/>
<text class="mono" x="1866" y="664" style="font-size:28px;font-weight:bold"><tspan fill="#2b2b33">S</tspan><tspan fill="#b8304f">I</tspan><tspan fill="#2b2b33">K</tspan></text>
</g>
</g>
</g>
</svg>
